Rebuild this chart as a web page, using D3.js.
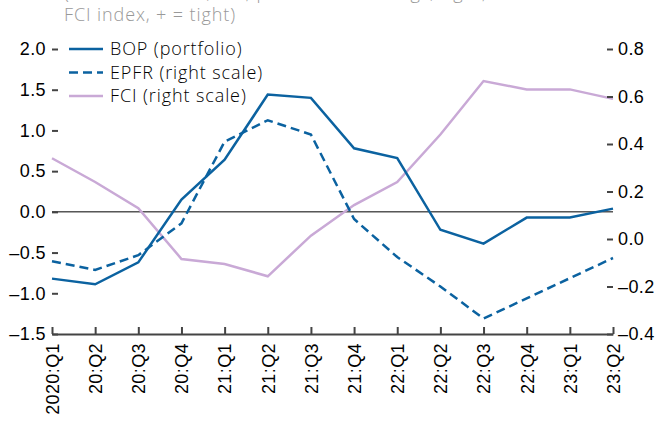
<!DOCTYPE html>
<html>
<head>
<meta charset="utf-8">
<script src="https://cdn.jsdelivr.net/npm/d3@7"></script>
<style>
  body { margin: 0; background: #fff; }
  svg { font-family: "Open Sans", "Noto Sans", sans-serif; font-weight: 300; }
  .axis text { font-size: 18px; fill: #000; letter-spacing: 0.4px; }
  .axis line, .axis path { stroke: #444; stroke-width: 2px; }
  .note { font-size: 18px; fill: #999; letter-spacing: 0.9px; }
  .legend text { font-size: 18px; fill: #000; letter-spacing: 0.9px; }
</style>
</head>
<body>
<div id="chart"></div>
<script>
'use strict';

const quarters = ['2020:Q1', '20:Q2', '20:Q3', '20:Q4', '21:Q1', '21:Q2', '21:Q3',
    '21:Q4', '22:Q1', '22:Q2', '22:Q3', '22:Q4', '23:Q1', '23:Q2'];
const bop = [-0.82, -0.89, -0.62, 0.15, 0.64, 1.44, 1.40, 0.78, 0.66, -0.22, -0.39, -0.07, -0.07, 0.04];
const epfr = [-0.094, -0.13, -0.068, 0.066, 0.41, 0.50, 0.44, 0.084, -0.076, -0.20, -0.335, -0.25, -0.165, -0.08];
const fci = [0.34, 0.24, 0.13, -0.084, -0.105, -0.157, 0.014, 0.143, 0.24, 0.44, 0.665, 0.63, 0.63, 0.59];
const leftTicks = [-1.5, -1.0, -0.5, 0.0, 0.5, 1.0, 1.5, 2.0];
const rightTicks = [-0.4, -0.2, 0.0, 0.2, 0.4, 0.6, 0.8];

const width = 655, height = 425;
const plotLeft = 52, plotRight = 613, plotTop = 49, plotBottom = 334;
const blue = '#0b62a0', lilac = '#c9a9d6';

let xScale = d3.scalePoint().domain(quarters).range([plotLeft, plotRight]);
let yLeft = d3.scaleLinear().domain([-1.5, 2.0]).range([plotBottom, plotTop]);
let yRight = d3.scaleLinear().domain([-0.4, 0.8]).range([plotBottom, plotTop]);

let fmt = d => d3.format('.1f')(d).replace('−', '–');

let svg = d3.select('#chart').append('svg')
    .attr('width', width)
    .attr('height', height);

// header, cut off at the top like the original
svg.append('text').attr('class', 'note')
    .attr('x', 64).attr('y', -1)
    .text('(Percent of GDP, left; percent of holdings, right;');
svg.append('text').attr('class', 'note')
    .attr('x', 64).attr('y', 21)
    .text('FCI index, + = tight)');

// zero line
svg.append('line')
    .attr('x1', plotLeft).attr('x2', plotRight)
    .attr('y1', yLeft(0)).attr('y2', yLeft(0))
    .attr('stroke', '#000').attr('stroke-width', 1);

let lineL = d3.line().x((d, i) => xScale(quarters[i])).y(d => yLeft(d));
let lineR = d3.line().x((d, i) => xScale(quarters[i])).y(d => yRight(d));

svg.append('path').datum(fci)
    .attr('d', lineR).attr('fill', 'none')
    .attr('stroke', lilac).attr('stroke-width', 2.5);

svg.append('path').datum(epfr)
    .attr('d', lineR).attr('fill', 'none')
    .attr('stroke', blue).attr('stroke-width', 2.5)
    .attr('stroke-dasharray', '9,5');

svg.append('path').datum(bop)
    .attr('d', lineL).attr('fill', 'none')
    .attr('stroke', blue).attr('stroke-width', 2.5);

// axes
svg.append('g').attr('class', 'axis')
    .attr('transform', `translate(${plotLeft},0)`)
    .call(d3.axisLeft(yLeft).tickValues(leftTicks).tickFormat(fmt).tickSize(-6).tickPadding(6))
    .call(g => g.select('.domain').remove());

svg.append('g').attr('class', 'axis')
    .attr('transform', `translate(${plotRight},0)`)
    .call(d3.axisRight(yRight).tickValues(rightTicks).tickFormat(fmt).tickSize(-6).tickPadding(5))
    .call(g => g.select('.domain').remove());

svg.append('g').attr('class', 'axis')
    .attr('transform', `translate(0,${plotBottom})`)
    .call(d3.axisBottom(xScale).tickSize(-7).tickSizeOuter(0).tickPadding(0))
    .selectAll('text')
    .attr('transform', 'rotate(-90)')
    .attr('text-anchor', 'end')
    .attr('x', -9).attr('y', 0).attr('dy', '0.35em');

// legend
let legendItems = [
    { name: 'BOP (portfolio)', color: blue, dash: null },
    { name: 'EPFR (right scale)', color: blue, dash: '9,5' },
    { name: 'FCI (right scale)', color: lilac, dash: null }
];
let legend = svg.append('g').attr('class', 'legend');
legendItems.forEach((d, i) => {
    let y = 49 + i * 23.5;
    legend.append('line')
        .attr('x1', 69).attr('x2', 103).attr('y1', y).attr('y2', y)
        .attr('stroke', d.color).attr('stroke-width', 2.5)
        .attr('stroke-dasharray', d.dash);
    legend.append('text')
        .attr('x', 110).attr('y', y).attr('dy', '0.35em')
        .text(d.name);
});
</script>
</body>
</html>
